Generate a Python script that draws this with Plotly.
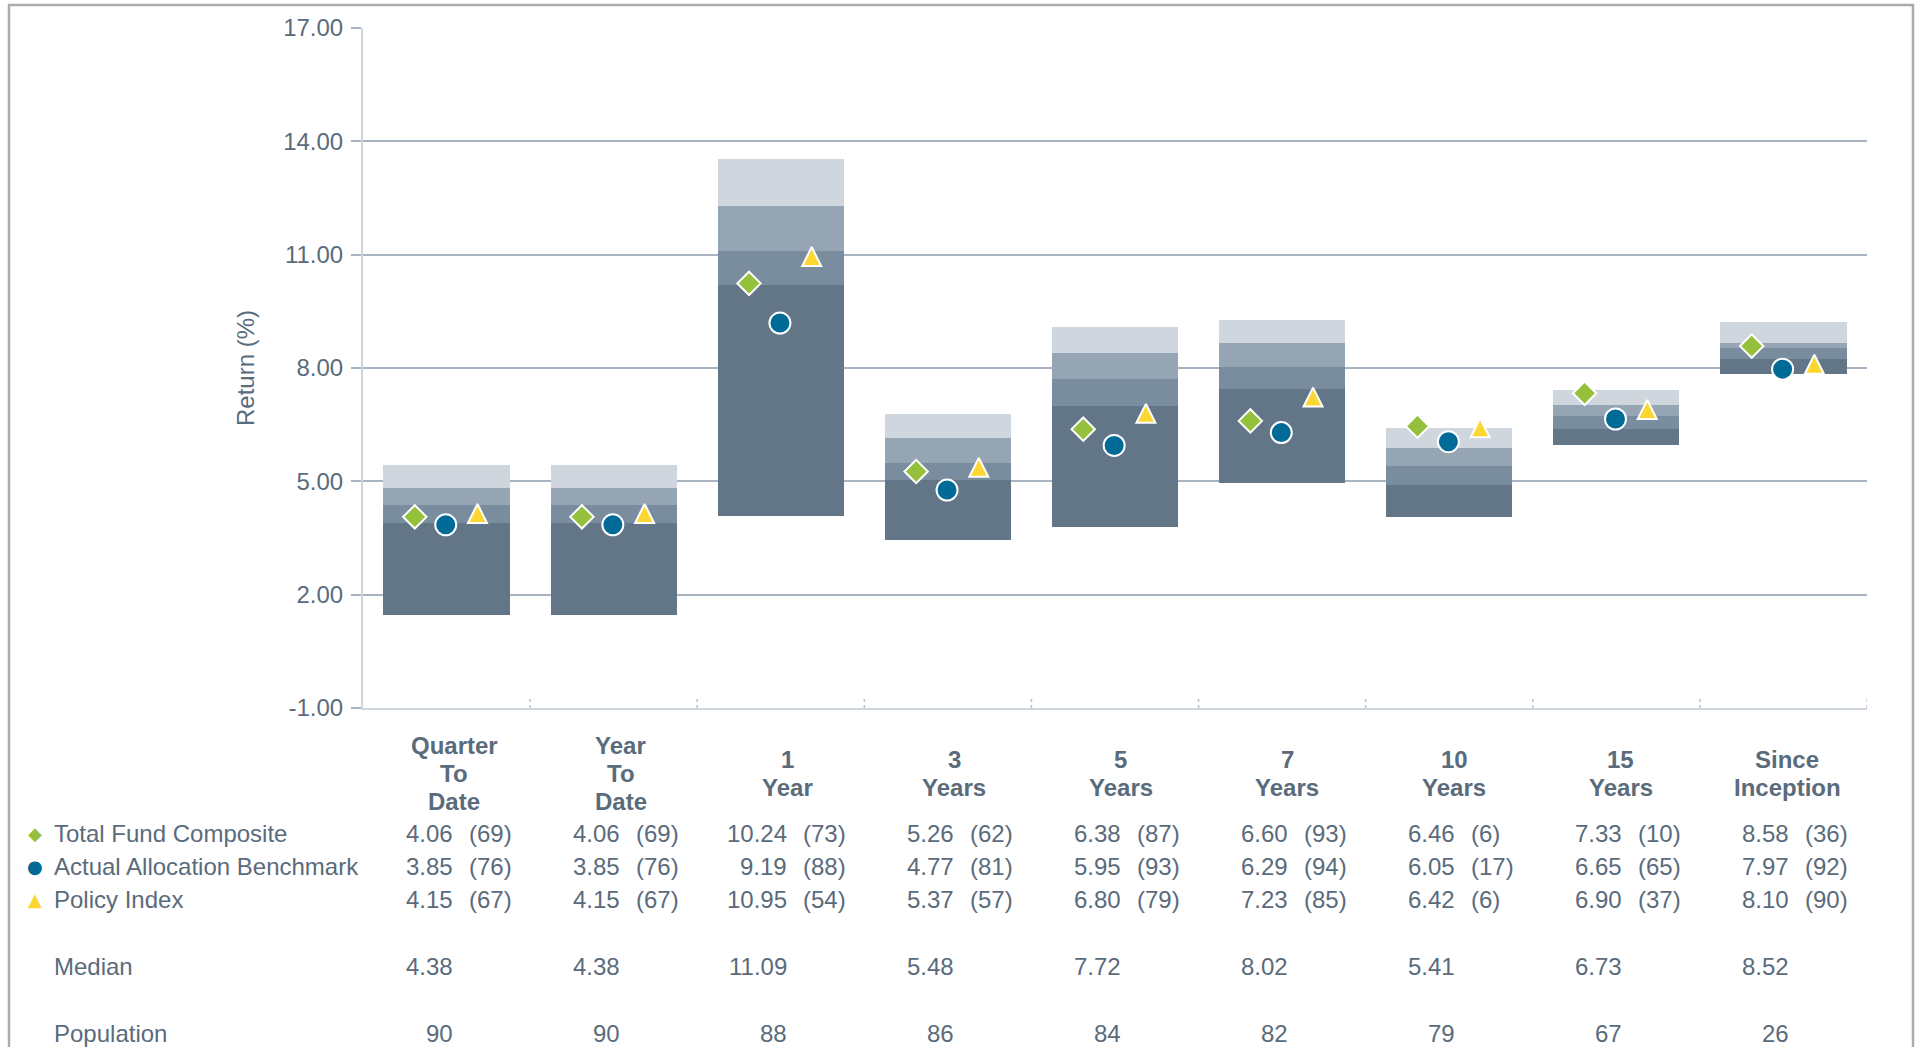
import plotly.graph_objects as go

# ---------------- data ----------------
categories = ["Quarter To Date", "Year To Date", "1 Year", "3 Years", "5 Years",
              "7 Years", "10 Years", "15 Years", "Since Inception"]

# percentile bands (top of bar = 5th pct, bottom = 95th pct)
p5 = [5.42, 5.42, 13.52, 6.78, 9.09, 9.28, 6.42, 7.42, 9.23]
p25 = [4.82, 4.82, 12.28, 6.14, 8.40, 8.67, 5.89, 7.03, 8.67]
median = [4.38, 4.38, 11.09, 5.48, 7.72, 8.02, 5.41, 6.73, 8.52]
p75 = [3.89, 3.89, 10.19, 5.03, 7.00, 7.45, 4.89, 6.39, 8.25]
p95 = [1.46, 1.46, 4.09, 3.45, 3.78, 4.95, 4.05, 5.95, 7.83]

tfc_vals = [4.06, 4.06, 10.24, 5.26, 6.38, 6.60, 6.46, 7.33, 8.58]
tfc_ranks = [69, 69, 73, 62, 87, 93, 6, 10, 36]
aab_vals = [3.85, 3.85, 9.19, 4.77, 5.95, 6.29, 6.05, 6.65, 7.97]
aab_ranks = [76, 76, 88, 81, 93, 94, 17, 65, 92]
pi_vals = [4.15, 4.15, 10.95, 5.37, 6.80, 7.23, 6.42, 6.90, 8.10]
pi_ranks = [67, 67, 54, 57, 79, 85, 6, 37, 90]
population = [90, 90, 88, 86, 84, 82, 79, 67, 26]

series_names = ["Total Fund Composite", "Actual Allocation Benchmark", "Policy Index"]

ytick_vals = [-1, 2, 5, 8, 11, 14, 17]
ytick_labels = ["-1.00", "2.00", "5.00", "8.00", "11.00", "14.00", "17.00"]

# ---------------- style ----------------
W, H = 1917, 1047
PL, PR, PT, PB = 363, 1867, 28, 708
FONT = "Liberation Sans, Arial, Helvetica, sans-serif"
TXT = "#5a6b7c"
GRID = "#a8b4c2"
AXL = "#cfd6de"
BAND_COLORS = ["#627687", "#798d9e", "#95a5b3", "#cfd6de"]  # bottom -> top
GREEN, BLUE, YELLOW = "#94c03c", "#006b96", "#fcd731"
BAR_W = 0.755
MK_OFF = [-0.19, -0.005, 0.185]

n = len(categories)
xs = list(range(n))

fig = go.Figure()

# floating percentile bars
bounds = [p95, p75, median, p25, p5]
for k in range(4):
    lo, hi = bounds[k], bounds[k + 1]
    fig.add_trace(go.Bar(
        x=xs, base=lo, y=[h - l for h, l in zip(hi, lo)], width=BAR_W,
        marker=dict(color=BAND_COLORS[k], line=dict(width=0)),
        showlegend=False, hoverinfo="skip"))

# markers
fig.add_trace(go.Scatter(
    x=[i + MK_OFF[0] for i in xs], y=tfc_vals, mode="markers", name=series_names[0],
    marker=dict(symbol="diamond", size=18, color=GREEN, line=dict(color="white", width=2)),
    cliponaxis=False, showlegend=False))
fig.add_trace(go.Scatter(
    x=[i + MK_OFF[1] for i in xs], y=aab_vals, mode="markers", name=series_names[1],
    marker=dict(symbol="circle", size=21, color=BLUE, line=dict(color="white", width=2)),
    cliponaxis=False, showlegend=False))
fig.add_trace(go.Scatter(
    x=[i + MK_OFF[2] for i in xs], y=pi_vals, mode="markers", name=series_names[2],
    marker=dict(symbol="arrow-down", angle=180, standoff=9.5, size=19, color=YELLOW,
                line=dict(color="white", width=2)),
    cliponaxis=False, showlegend=False))

annotations = []


def yshift_of(py):
    return PB - py


def xpaper(px):
    return (px - PL) / (PR - PL)


# category headers
for i, cat in enumerate(categories):
    lines = cat.split(" ")
    m = len(lines)
    for k, ln in enumerate(lines):
        py = 773 + (k - (m - 1) / 2) * 28
        annotations.append(dict(
            x=i, xref="x", y=0, yref="paper", yanchor="middle", xanchor="center",
            xshift=7.5 - 0.45 * i, yshift=yshift_of(py), text="<b>%s</b>" % ln, showarrow=False,
            font=dict(family=FONT, size=24, color=TXT)))

# rows
row_defs = [
    (series_names[0], tfc_vals, tfc_ranks, 833, "◆", GREEN),
    (series_names[1], aab_vals, aab_ranks, 866, "●", BLUE),
    (series_names[2], pi_vals, pi_ranks, 899, "▲", YELLOW),
]
for name, vals, ranks, py, glyph, col in row_defs:
    annotations.append(dict(
        x=xpaper(35), xref="paper", y=0, yref="paper", yanchor="middle", xanchor="center",
        yshift=yshift_of(py), text=glyph, showarrow=False,
        font=dict(family="DejaVu Sans", size=18, color=col)))
    annotations.append(dict(
        x=xpaper(52), xref="paper", y=0, yref="paper", yanchor="middle", xanchor="left",
        yshift=yshift_of(py), text=name, showarrow=False,
        font=dict(family=FONT, size=24, color=TXT)))
    for i in xs:
        annotations.append(dict(
            x=i, xref="x", y=0, yref="paper", yanchor="middle", xanchor="right",
            xshift=8, yshift=yshift_of(py), text="%.2f" % vals[i], showarrow=False,
            font=dict(family=FONT, size=24, color=TXT)))
        annotations.append(dict(
            x=i, xref="x", y=0, yref="paper", yanchor="middle", xanchor="left",
            xshift=20, yshift=yshift_of(py), text="(%d)" % ranks[i], showarrow=False,
            font=dict(family=FONT, size=24, color=TXT)))

for label, vals, py, fmt in [("Median", median, 966, "%.2f"), ("Population", population, 1033, "%d")]:
    annotations.append(dict(
        x=xpaper(52), xref="paper", y=0, yref="paper", yanchor="middle", xanchor="left",
        yshift=yshift_of(py), text=label, showarrow=False,
        font=dict(family=FONT, size=24, color=TXT)))
    for i in xs:
        annotations.append(dict(
            x=i, xref="x", y=0, yref="paper", yanchor="middle", xanchor="right",
            xshift=8, yshift=yshift_of(py), text=fmt % vals[i], showarrow=False,
            font=dict(family=FONT, size=24, color=TXT)))

# shapes: dotted category separators on x axis, outer frame
shapes = []
for b in [i + 0.5 for i in xs]:
    shapes.append(dict(type="line", xref="x", yref="y", x0=b, x1=b,
                       ysizemode="pixel", yanchor=-1, y0=0, y1=12,
                       line=dict(color="#b8c2cc", width=1.5, dash="dot")))
shapes.append(dict(type="rect", xref="paper", yref="paper",
                   x0=xpaper(9), x1=xpaper(1913), y0=(PB - 1070) / (PB - PT), y1=(PB - 5) / (PB - PT),
                   line=dict(color="#ababab", width=2.5), fillcolor="rgba(0,0,0,0)"))

fig.update_layout(
    width=W, height=H,
    margin=dict(l=PL, r=W - PR, t=PT, b=H - PB, pad=0),
    paper_bgcolor="white", plot_bgcolor="white",
    barmode="overlay", bargap=0,
    showlegend=False,
    font=dict(family=FONT, size=24, color=TXT),
    annotations=annotations, shapes=shapes,
    xaxis=dict(range=[-0.5, n - 0.5], showticklabels=False, showgrid=False, zeroline=False,
               showline=True, linecolor=AXL, linewidth=2, ticks="", fixedrange=True),
    yaxis=dict(range=[-1, 17], tickvals=ytick_vals, ticktext=ytick_labels,
               showgrid=True, gridcolor=GRID, gridwidth=2, zeroline=False,
               showline=True, linecolor=AXL, linewidth=2,
               ticks="outside", ticklen=10, tickwidth=2, tickcolor=GRID,
               ticklabelstandoff=3,
               tickfont=dict(family=FONT, size=24, color=TXT),
               title=dict(text="Return (%)", standoff=22,
                          font=dict(family=FONT, size=24, color=TXT)),
               fixedrange=True),
)

fig.write_html("out.html", config=dict(displayModeBar=False),
               post_script="document.body.style.margin='0';document.body.style.overflow='hidden';")
